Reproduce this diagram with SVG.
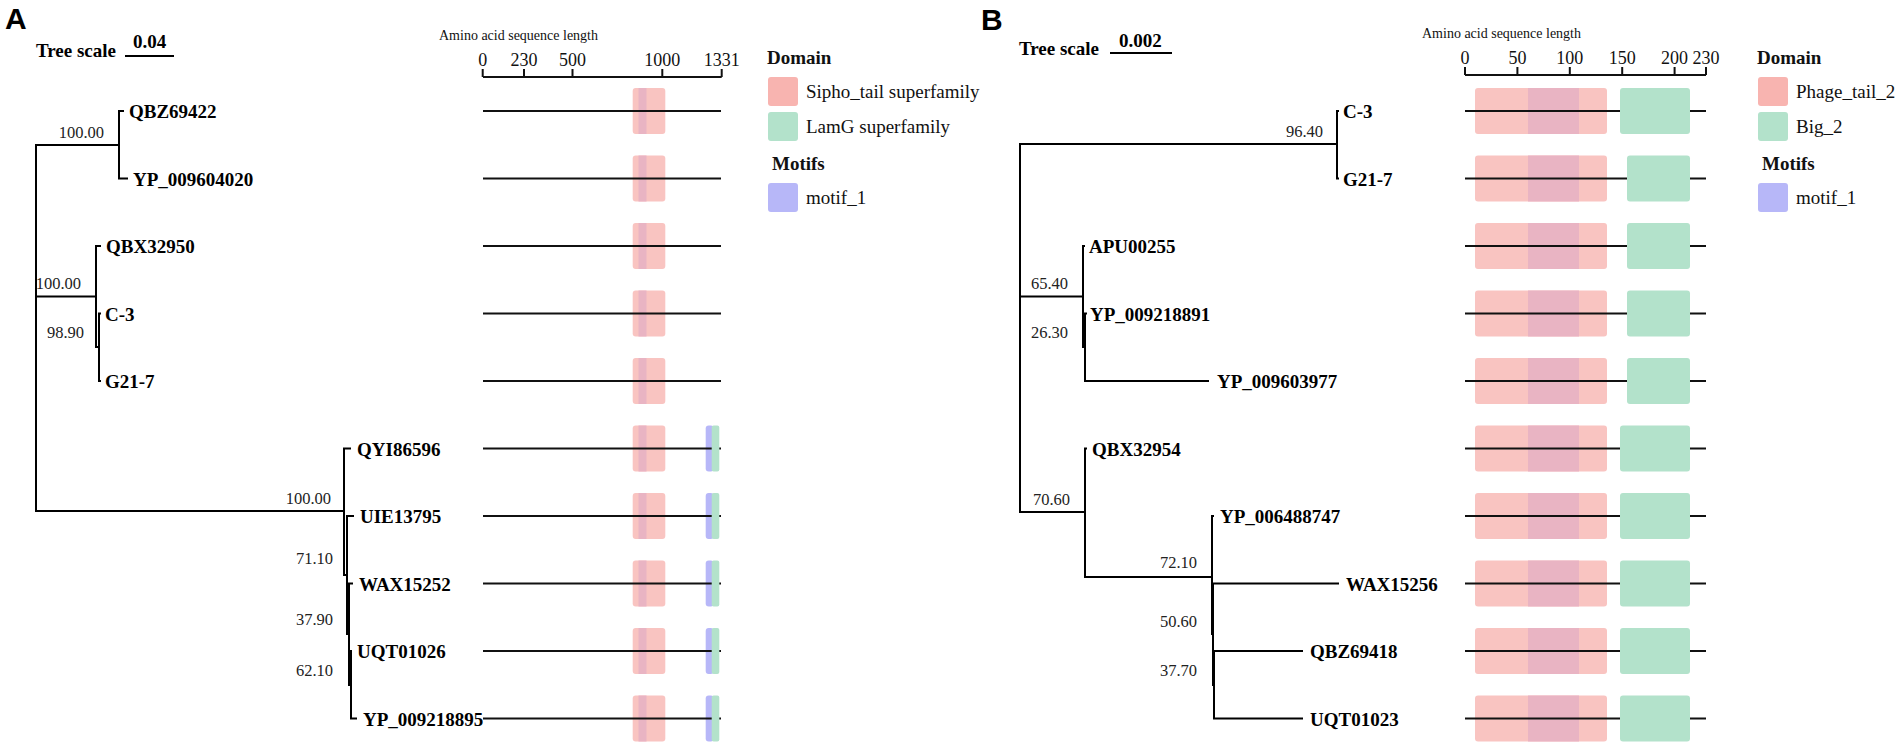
<svg xmlns="http://www.w3.org/2000/svg" width="1902" height="750" viewBox="0 0 1902 750">
<style>
.br{stroke:#000;stroke-width:2;fill:none;stroke-linecap:square}
.sq{stroke:#111;stroke-width:2;fill:none}
.tip{font-family:"Liberation Serif",serif;font-weight:bold;font-size:19px;fill:#000}
.bs{font-family:"Liberation Serif",serif;font-size:16.5px;fill:#222}
.ttl{font-family:"Liberation Serif",serif;font-size:14px;fill:#111}
.tk{font-family:"Liberation Serif",serif;font-size:18px;fill:#111;text-anchor:middle}
.lg{font-family:"Liberation Serif",serif;font-size:19px;fill:#111}
.lgh{font-family:"Liberation Serif",serif;font-size:19px;font-weight:bold;fill:#111}
.pl{font-family:"Liberation Sans",Arial,sans-serif;font-size:30px;font-weight:bold;fill:#000}
.pk{fill:#F9C4C1}
.bd{fill:#E9B4C3}
.gr{fill:#B3E2CB}
.pu{fill:#B7B7F8}
</style>
<rect width="1902" height="750" fill="#fff"/>

<!-- Panel A header -->
<g id="panelA-header">
<text class="pl" x="5" y="29">A</text>
<text class="tip" x="36" y="57">Tree scale</text>
<text class="tip" x="133" y="48">0.04</text>
<path class="br" d="M126,56 H173"/>
<text class="ttl" x="439" y="40">Amino acid sequence length</text>
<path class="sq" d="M483,77 H721.7 M482.7,69 V77 M524,69 V77 M572.5,69 V77 M662.3,69 V77 M721.7,69 V77"/>
<text class="tk" x="482.7" y="66">0</text>
<text class="tk" x="524" y="66">230</text>
<text class="tk" x="572.5" y="66">500</text>
<text class="tk" x="662.3" y="66">1000</text>
<text class="tk" x="721.7" y="66">1331</text>
</g>

<g id="legendA">
<text class="lgh" x="767" y="64">Domain</text>
<rect x="768" y="77" width="30" height="29" rx="3" fill="#F8B4B0"/>
<text class="lg" x="806" y="98">Sipho_tail superfamily</text>
<rect x="768" y="112" width="30" height="29" rx="3" class="gr"/>
<text class="lg" x="806" y="133">LamG superfamily</text>
<text class="lgh" x="772" y="170">Motifs</text>
<rect x="768" y="183" width="30" height="29" rx="3" class="pu"/>
<text class="lg" x="806" y="204">motif_1</text>
</g>

<!-- Panel A leaves -->
<g id="A-QBZ69422"><rect class="pk" x="632.7" y="88" width="32.6" height="46" rx="3"/><rect class="bd" x="638.5" y="88" width="8" height="46"/><path class="sq" d="M483,111 H721"/><text class="tip" x="129" y="118">QBZ69422</text></g>
<g id="A-YP_009604020"><rect class="pk" x="632.7" y="155.5" width="32.6" height="46" rx="3"/><rect class="bd" x="638.5" y="155.5" width="8" height="46"/><path class="sq" d="M483,178.5 H721"/><text class="tip" x="133" y="185.5">YP_009604020</text></g>
<g id="A-QBX32950"><rect class="pk" x="632.7" y="223" width="32.6" height="46" rx="3"/><rect class="bd" x="638.5" y="223" width="8" height="46"/><path class="sq" d="M483,246 H721"/><text class="tip" x="106" y="253">QBX32950</text></g>
<g id="A-C-3"><rect class="pk" x="632.7" y="290.5" width="32.6" height="46" rx="3"/><rect class="bd" x="638.5" y="290.5" width="8" height="46"/><path class="sq" d="M483,313.5 H721"/><text class="tip" x="105" y="320.5">C-3</text></g>
<g id="A-G21-7"><rect class="pk" x="632.7" y="358" width="32.6" height="46" rx="3"/><rect class="bd" x="638.5" y="358" width="8" height="46"/><path class="sq" d="M483,381 H721"/><text class="tip" x="105" y="388">G21-7</text></g>
<g id="A-QYI86596"><rect class="pk" x="632.7" y="425.5" width="32.6" height="46" rx="3"/><rect class="bd" x="638.5" y="425.5" width="8" height="46"/><rect class="pu" x="705.7" y="425.5" width="8" height="46" rx="3"/><path class="sq" d="M483,448.5 H721"/><rect class="gr" x="711.7" y="425.5" width="7.6" height="46" rx="2"/><text class="tip" x="357" y="455.5">QYI86596</text></g>
<g id="A-UIE13795"><rect class="pk" x="632.7" y="493" width="32.6" height="46" rx="3"/><rect class="bd" x="638.5" y="493" width="8" height="46"/><rect class="pu" x="705.7" y="493" width="8" height="46" rx="3"/><path class="sq" d="M483,516 H721"/><rect class="gr" x="711.7" y="493" width="7.6" height="46" rx="2"/><text class="tip" x="360" y="523">UIE13795</text></g>
<g id="A-WAX15252"><rect class="pk" x="632.7" y="560.5" width="32.6" height="46" rx="3"/><rect class="bd" x="638.5" y="560.5" width="8" height="46"/><rect class="pu" x="705.7" y="560.5" width="8" height="46" rx="3"/><path class="sq" d="M483,583.5 H721"/><rect class="gr" x="711.7" y="560.5" width="7.6" height="46" rx="2"/><text class="tip" x="359" y="590.5">WAX15252</text></g>
<g id="A-UQT01026"><rect class="pk" x="632.7" y="628" width="32.6" height="46" rx="3"/><rect class="bd" x="638.5" y="628" width="8" height="46"/><rect class="pu" x="705.7" y="628" width="8" height="46" rx="3"/><path class="sq" d="M483,651 H721"/><rect class="gr" x="711.7" y="628" width="7.6" height="46" rx="2"/><text class="tip" x="357" y="658">UQT01026</text></g>
<g id="A-YP_009218895"><rect class="pk" x="632.7" y="695.5" width="32.6" height="46" rx="3"/><rect class="bd" x="638.5" y="695.5" width="8" height="46"/><rect class="pu" x="705.7" y="695.5" width="8" height="46" rx="3"/><path class="sq" d="M483,718.5 H721"/><rect class="gr" x="711.7" y="695.5" width="7.6" height="46" rx="2"/><text class="tip" x="363" y="725.5">YP_009218895</text></g>

<!-- Panel A support values -->
<g id="A-support">
<text class="bs" x="104" y="138" text-anchor="end">100.00</text>
<text class="bs" x="81" y="289" text-anchor="end">100.00</text>
<text class="bs" x="84" y="338" text-anchor="end">98.90</text>
<text class="bs" x="331" y="504" text-anchor="end">100.00</text>
<text class="bs" x="333" y="564" text-anchor="end">71.10</text>
<text class="bs" x="333" y="625" text-anchor="end">37.90</text>
<text class="bs" x="333" y="676" text-anchor="end">62.10</text>
</g>

<!-- Panel B header -->
<g id="panelB-header">
<text class="pl" x="981" y="30">B</text>
<text class="tip" x="1019" y="55">Tree scale</text>
<text class="tip" x="1119" y="47">0.002</text>
<path class="br" d="M1111,53 H1171"/>
<text class="ttl" x="1422" y="38">Amino acid sequence length</text>
<path class="sq" d="M1465,75 H1706 M1465,67 V75 M1517.4,67 V75 M1569.8,67 V75 M1622.2,67 V75 M1674.6,67 V75 M1706,67 V75"/>
<text class="tk" x="1465" y="64">0</text>
<text class="tk" x="1517.4" y="64">50</text>
<text class="tk" x="1569.8" y="64">100</text>
<text class="tk" x="1622.2" y="64">150</text>
<text class="tk" x="1674.6" y="64">200</text>
<text class="tk" x="1706" y="64">230</text>
</g>

<g id="legendB">
<text class="lgh" x="1757" y="64">Domain</text>
<rect x="1758" y="77" width="30" height="29" rx="3" fill="#F8B4B0"/>
<text class="lg" x="1796" y="98">Phage_tail_2</text>
<rect x="1758" y="112" width="30" height="29" rx="3" class="gr"/>
<text class="lg" x="1796" y="133">Big_2</text>
<text class="lgh" x="1762" y="170">Motifs</text>
<rect x="1758" y="183" width="30" height="29" rx="3" class="pu"/>
<text class="lg" x="1796" y="204">motif_1</text>
</g>

<!-- Panel B leaves -->
<g id="B-C-3"><rect class="pk" x="1475" y="88" width="132" height="46" rx="3"/><rect class="bd" x="1528" y="88" width="51" height="46"/><path class="sq" d="M1465,111 H1706"/><rect class="gr" x="1620" y="88" width="70" height="46" rx="3"/><text class="tip" x="1343" y="118">C-3</text></g>
<g id="B-G21-7"><rect class="pk" x="1475" y="155.5" width="132" height="46" rx="3"/><rect class="bd" x="1528" y="155.5" width="51" height="46"/><path class="sq" d="M1465,178.5 H1706"/><rect class="gr" x="1627" y="155.5" width="63" height="46" rx="3"/><text class="tip" x="1343" y="185.5">G21-7</text></g>
<g id="B-APU00255"><rect class="pk" x="1475" y="223" width="132" height="46" rx="3"/><rect class="bd" x="1528" y="223" width="51" height="46"/><path class="sq" d="M1465,246 H1706"/><rect class="gr" x="1627" y="223" width="63" height="46" rx="3"/><text class="tip" x="1089" y="253">APU00255</text></g>
<g id="B-YP_009218891"><rect class="pk" x="1475" y="290.5" width="132" height="46" rx="3"/><rect class="bd" x="1528" y="290.5" width="51" height="46"/><path class="sq" d="M1465,313.5 H1706"/><rect class="gr" x="1627" y="290.5" width="63" height="46" rx="3"/><text class="tip" x="1090" y="320.5">YP_009218891</text></g>
<g id="B-YP_009603977"><rect class="pk" x="1475" y="358" width="132" height="46" rx="3"/><rect class="bd" x="1528" y="358" width="51" height="46"/><path class="sq" d="M1465,381 H1706"/><rect class="gr" x="1627" y="358" width="63" height="46" rx="3"/><text class="tip" x="1217" y="388">YP_009603977</text></g>
<g id="B-QBX32954"><rect class="pk" x="1475" y="425.5" width="132" height="46" rx="3"/><rect class="bd" x="1528" y="425.5" width="51" height="46"/><path class="sq" d="M1465,448.5 H1706"/><rect class="gr" x="1620" y="425.5" width="70" height="46" rx="3"/><text class="tip" x="1092" y="455.5">QBX32954</text></g>
<g id="B-YP_006488747"><rect class="pk" x="1475" y="493" width="132" height="46" rx="3"/><rect class="bd" x="1528" y="493" width="51" height="46"/><path class="sq" d="M1465,516 H1706"/><rect class="gr" x="1620" y="493" width="70" height="46" rx="3"/><text class="tip" x="1220" y="523">YP_006488747</text></g>
<g id="B-WAX15256"><rect class="pk" x="1475" y="560.5" width="132" height="46" rx="3"/><rect class="bd" x="1528" y="560.5" width="51" height="46"/><path class="sq" d="M1465,583.5 H1706"/><rect class="gr" x="1620" y="560.5" width="70" height="46" rx="3"/><text class="tip" x="1346" y="590.5">WAX15256</text></g>
<g id="B-QBZ69418"><rect class="pk" x="1475" y="628" width="132" height="46" rx="3"/><rect class="bd" x="1528" y="628" width="51" height="46"/><path class="sq" d="M1465,651 H1706"/><rect class="gr" x="1620" y="628" width="70" height="46" rx="3"/><text class="tip" x="1310" y="658">QBZ69418</text></g>
<g id="B-UQT01023"><rect class="pk" x="1475" y="695.5" width="132" height="46" rx="3"/><rect class="bd" x="1528" y="695.5" width="51" height="46"/><path class="sq" d="M1465,718.5 H1706"/><rect class="gr" x="1620" y="695.5" width="70" height="46" rx="3"/><text class="tip" x="1310" y="725.5">UQT01023</text></g>

<g id="B-support">
<text class="bs" x="1323" y="137" text-anchor="end">96.40</text>
<text class="bs" x="1068" y="289" text-anchor="end">65.40</text>
<text class="bs" x="1068" y="338" text-anchor="end">26.30</text>
<text class="bs" x="1070" y="505" text-anchor="end">70.60</text>
<text class="bs" x="1197" y="568" text-anchor="end">72.10</text>
<text class="bs" x="1197" y="627" text-anchor="end">50.60</text>
<text class="bs" x="1197" y="676" text-anchor="end">37.70</text>
</g>

<!-- Connectors (tree branches) -->
<g id="connectors" class="br">
<path d="M36,145 V511"/>
<path d="M36,145 H119 M119,111 V178.5 M119,111 H123 M119,178.5 H127"/>
<path d="M36,296.5 H96 M96,246 V347 M96,246 H100 M96,347 H99 M99,313.5 V381 M99,313.5 H100 M99,381 H100"/>
<path d="M36,511 H344 M344,448.5 V575 M344,448.5 H350"/>
<path d="M344,575 H347 M347,516 V634 M347,516 H353"/>
<path d="M347,634 H349 M349,583.5 V685 M349,583.5 H352"/>
<path d="M349,685 H351 M351,651 V718.5 M351,651 H351 M351,718.5 H356"/>
<path d="M1020,144 V512"/>
<path d="M1020,144 H1337 M1337,111 V178.5 M1337,111 H1338 M1337,178.5 H1338"/>
<path d="M1020,296.5 H1083 M1083,246 V347 M1083,246 H1084"/>
<path d="M1083,347 H1085 M1085,313.5 V381 M1085,313.5 H1086 M1085,381 H1208"/>
<path d="M1020,512 H1085 M1085,448.5 V577 M1085,448.5 H1086"/>
<path d="M1085,577 H1212 M1212,516 V634 M1212,516 H1213"/>
<path d="M1212,634 H1213 M1213,583.5 V685 M1213,583.5 H1338"/>
<path d="M1213,685 H1214 M1214,651 V718.5 M1214,651 H1302 M1214,718.5 H1302"/>
</g>
</svg>
